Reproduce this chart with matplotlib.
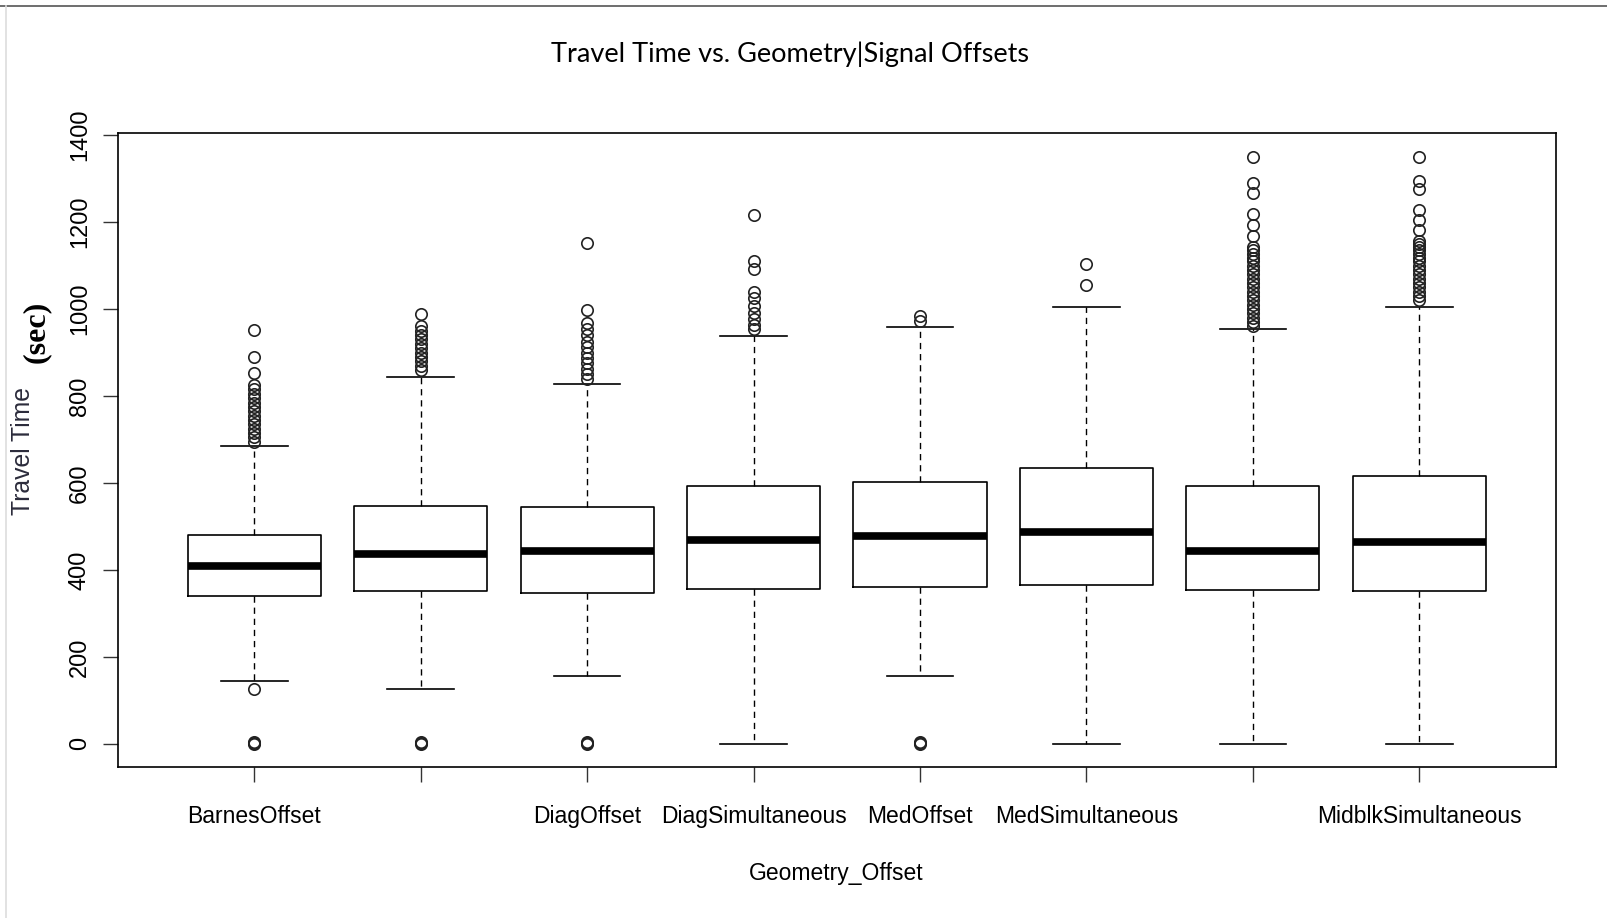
import numpy as np
import matplotlib.pyplot as plt
from matplotlib.lines import Line2D

# Box statistics (seconds)
groups = ['BarnesOffset', 'BarnesSimultaneous', 'DiagOffset', 'DiagSimultaneous',
          'MedOffset', 'MedSimultaneous', 'MidblkOffset', 'MidblkSimultaneous']
# R dropped two labels because of overlap
shown_labels = ['BarnesOffset', '', 'DiagOffset', 'DiagSimultaneous',
                'MedOffset', 'MedSimultaneous', '', 'MidblkSimultaneous']

whislo = [144, 127, 156, 0, 156, 0, 0, 0]
q1 = [339, 351, 346, 356, 361, 365, 354, 351]
med = [410, 436, 443, 469, 478, 488, 443, 464]
q3 = [481, 547, 544, 594, 601, 634, 594, 615]
whishi = [686, 844, 827, 938, 959, 1004, 955, 1004]

fliers = [
    [952, 889, 853, 825, 815, 805, 795, 785, 775, 765, 755, 745, 735, 725, 715, 705, 695,
     125, 0, 2, 4],
    [988, 960, 950, 940, 930, 920, 910, 900, 890, 880, 870, 860, 0, 2, 4],
    [1152, 997, 968, 955, 940, 925, 912, 900, 888, 875, 862, 850, 840, 0, 2, 4],
    [1216, 1110, 1092, 1040, 1026, 1006, 992, 978, 964, 955],
    [985, 973, 0, 2, 4],
    [1103, 1056],
    [1350, 1289, 1266, 1218, 1193, 1169, 1143, 1135, 1127, 1118, 1110, 1100, 1090, 1080,
     1070, 1060, 1050, 1040, 1030, 1020, 1010, 1000, 990, 980, 970, 962],
    [1350, 1294, 1275, 1228, 1204, 1181, 1157, 1150, 1143, 1135, 1127, 1118, 1110, 1100,
     1090, 1080, 1070, 1060, 1050, 1040, 1030, 1020],
]

stats = []
for i, g in enumerate(groups):
    stats.append({'label': shown_labels[i], 'whislo': whislo[i], 'q1': q1[i], 'med': med[i],
                  'q3': q3[i], 'whishi': whishi[i], 'fliers': fliers[i]})

fig = plt.figure(figsize=(16.08, 9.18), dpi=100)
ax = fig.add_axes([0.0733, 0.1642, 0.8942, 0.6905])

ax.bxp(stats, positions=np.arange(1, 9), widths=0.8, capwidths=0.4,
       boxprops=dict(color='black', linewidth=1.2),
       medianprops=dict(color='black', linewidth=5.5, solid_capstyle='butt'),
       whiskerprops=dict(color='black', linewidth=1.0, linestyle=(0, (4.5, 3.5))),
       capprops=dict(color='black', linewidth=1.2),
       flierprops=dict(marker='o', markersize=8.2, markerfacecolor='none',
                       markeredgecolor='#222222', markeredgewidth=1.2))

ax.set_xlim(0.18, 8.82)
ax.set_ylim(-54, 1404)
ax.set_yticks(np.arange(0, 1401, 200))
ax.set_yticklabels([str(v) for v in range(0, 1401, 200)], rotation=90, va='center',
                   fontsize=17, family=['Liberation Sans', 'DejaVu Sans'])
ax.set_xticks(np.arange(1, 9))
ax.set_xticklabels(shown_labels, fontsize=16.5,
                   family=['Liberation Sans Narrow', 'Liberation Sans', 'DejaVu Sans'])
ax.tick_params(axis='both', direction='out', length=10.5, width=1.0, color='#333333')
ax.tick_params(axis='y', pad=9)
ax.tick_params(axis='x', pad=17)
for s in ax.spines.values():
    s.set_linewidth(1.2)

fig.text(0.491, 0.9408, 'Travel Time vs. Geometry|Signal Offsets', ha='center', va='center',
         fontsize=19.5, family=['Lato', 'DejaVu Sans'])
fig.text(0.520, 0.048, 'Geometry_Offset', ha='center', va='center', fontsize=16.5,
         family=['Liberation Sans Narrow', 'Liberation Sans', 'DejaVu Sans'])
fig.text(0.014, 0.509, 'Travel Time', ha='center', va='center', rotation=90,
         fontsize=17.8, color='#2b2b3b', family=['Liberation Sans', 'DejaVu Sans'])
fig.text(0.0225, 0.638, '(sec)', ha='center', va='center', rotation=90,
         fontsize=23, fontweight='bold', family=['Liberation Serif', 'DejaVu Serif'])

# screenshot frame lines
fig.add_artist(Line2D([0, 1], [0.9933, 0.9933], transform=fig.transFigure,
                      color='#555555', linewidth=1.2))
fig.add_artist(Line2D([0.0038, 0.0038], [0, 0.9933], transform=fig.transFigure,
                      color='#dddddd', linewidth=1.2))

fig.savefig('out.png', dpi=100)
